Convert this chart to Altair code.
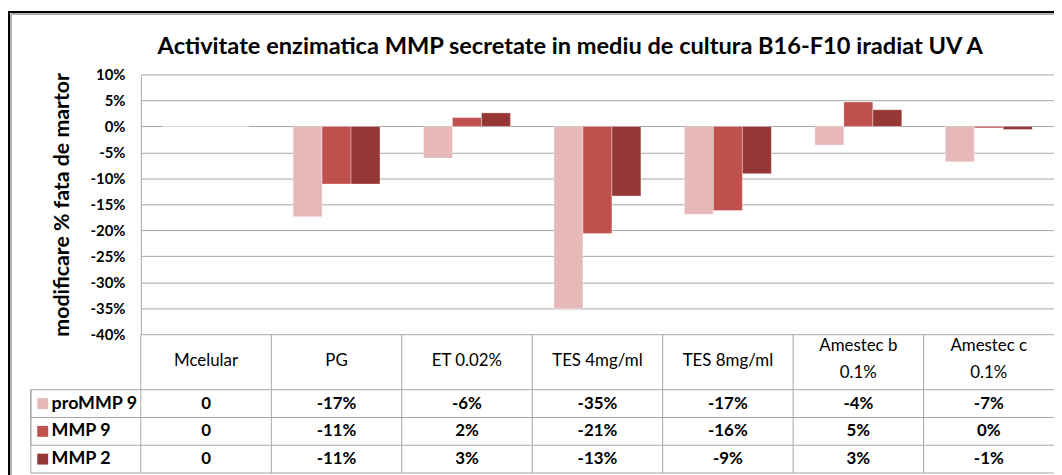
import altair as alt
import pandas as pd

# ---------------- data ----------------
categories = ["Mcelular", "PG", "ET 0.02%", "TES 4mg/ml", "TES 8mg/ml",
              "Amestec b 0.1%", "Amestec c 0.1%"]
header_line1 = ["Mcelular", "PG", "ET 0.02%", "TES 4mg/ml", "TES 8mg/ml",
                "Amestec b", "Amestec c"]
header_line2 = ["", "", "", "", "", "0.1%", "0.1%"]
series = ["proMMP 9", "MMP 9", "MMP 2"]
colors = ["#E6B9B8", "#C0504D", "#953735"]
pro_mmp9 = [0, -17.4, -6.1, -35.1, -16.9, -3.6, -6.8]
mmp9 = [0, -11.1, 1.7, -20.6, -16.2, 4.7, -0.3]
mmp2 = [0, -11.1, 2.6, -13.4, -9.1, 3.2, -0.6]
y_ticks = [-40, -35, -30, -25, -20, -15, -10, -5, 0, 5, 10]
title_text = "Activitate enzimatica MMP secretate in mediu de cultura B16-F10 iradiat UV A"

FONT = "Lato"

rows = []
for i, (s, vals) in enumerate(zip(series, [pro_mmp9, mmp9, mmp2])):
    for c, v in zip(categories, vals):
        rows.append({"cat": c, "series": s, "value": v, "row": 2.5 + i,
                     "label": "0" if v == 0 else f"{round(v)}%"})
df = pd.DataFrame(rows)

header_rows = []
for c, l1, l2 in zip(categories, header_line1, header_line2):
    if l2:
        header_rows.append({"cat": c, "text": l1, "row": 0.43})
        header_rows.append({"cat": c, "text": l2, "row": 1.4})
    else:
        header_rows.append({"cat": c, "text": l1, "row": 0.97})
header_df = pd.DataFrame(header_rows)

vlines_df = pd.DataFrame({"cat": categories, "r0": [0] * len(categories), "r1": [5] * len(categories)})
hlines_df = pd.DataFrame({"r": [2, 3, 4, 5]})
legend_df = pd.DataFrame({"series": series, "row": [2.5, 3.5, 4.5]})
one = pd.DataFrame({"t": [title_text]})

PLOT_W = 921
X_SPAN = 921
bar_range = [262, 0]

x_scale = alt.Scale(domain=categories, range=[0, X_SPAN], paddingInner=0, paddingOuter=0)
tbl_scale = alt.Scale(domain=[0, 5], range=[262, 402], nice=False, zero=False)
color_scale = alt.Scale(domain=series, range=colors)

bars = alt.Chart(df).mark_bar(stroke="white", strokeWidth=0.6, strokeOpacity=0.6).encode(
    x=alt.X("cat:N", scale=x_scale, sort=categories, axis=None),
    xOffset=alt.XOffset("series:N", sort=series,
                        scale=alt.Scale(domain=series, paddingInner=0, paddingOuter=0.75)),
    y=alt.Y("value:Q",
            scale=alt.Scale(domain=[-40, 10], range=bar_range, nice=False, zero=False),
            axis=alt.Axis(values=y_ticks, labelExpr="datum.value + '%'",
                          title="modificare % fata de martor",
                          titleFont=FONT, titleFontSize=21.5, titleFontWeight="bold",
                          titleColor="black", titlePadding=17,
                          labelFont=FONT, labelFontSize=15, labelFontWeight="bold",
                          labelColor="black", labelPadding=16, ticks=False,
                          domainColor="#a6a6a6", gridColor="#a6a6a6", grid=True)),
    y2=alt.datum(0),
    color=alt.Color("series:N", scale=color_scale, legend=None),
)

vlines = alt.Chart(vlines_df).mark_rule(color="#a6a6a6", strokeWidth=1).encode(
    x=alt.X("cat:N", scale=x_scale, sort=categories, bandPosition=0, axis=None),
    y=alt.Y("r0:Q", scale=tbl_scale, axis=None),
    y2="r1:Q",
)
left_vline = alt.Chart(hlines_df).mark_rule(color="#a6a6a6", strokeWidth=1).encode(
    x=alt.value(-111),
    y=alt.Y("r:Q", scale=tbl_scale, axis=None),
    y2=alt.datum(2),
)
hlines = alt.Chart(hlines_df).mark_rule(color="#a6a6a6", strokeWidth=1).encode(
    x=alt.value(-111), x2=alt.value(X_SPAN),
    y=alt.Y("r:Q", scale=tbl_scale, axis=None),
)

header_txt = alt.Chart(header_df).mark_text(
    font=FONT, fontSize=17, fontWeight="normal", color="black",
    baseline="middle", align="center"
).encode(
    x=alt.X("cat:N", scale=x_scale, sort=categories, axis=None),
    y=alt.Y("row:Q", scale=tbl_scale, axis=None),
    text="text:N",
)

value_txt = alt.Chart(df).mark_text(
    font=FONT, fontSize=17, fontWeight="bold", color="black",
    baseline="middle", align="center"
).encode(
    x=alt.X("cat:N", scale=x_scale, sort=categories, axis=None),
    y=alt.Y("row:Q", scale=tbl_scale, axis=None),
    text="label:N",
)

legend_sw = alt.Chart(legend_df).mark_square(size=121, opacity=1).encode(
    x=alt.value(-99),
    y=alt.Y("row:Q", scale=tbl_scale, axis=None),
    color=alt.Color("series:N", scale=color_scale, legend=None),
)
legend_txt = alt.Chart(legend_df).mark_text(
    font=FONT, fontSize=18, fontWeight="bold", color="black",
    baseline="middle", align="left"
).encode(
    x=alt.value(-90),
    y=alt.Y("row:Q", scale=tbl_scale, axis=None),
    text="series:N",
)

title_mark = alt.Chart(one).mark_text(
    font=FONT, fontSize=23.8, fontWeight="bold", color="black",
    baseline="alphabetic", align="center"
).encode(x=alt.value(433), y=alt.value(-21), text="t:N")

frame_black_v = alt.Chart(one).mark_rule(color="black", strokeWidth=2).encode(
    x=alt.value(-133), y=alt.value(-63), y2=alt.value(420))
frame_gray_v = alt.Chart(one).mark_rule(color="#b0b0b0", strokeWidth=2).encode(
    x=alt.value(-131), y=alt.value(-61), y2=alt.value(420))
frame_black_h = alt.Chart(one).mark_rule(color="black", strokeWidth=2).encode(
    x=alt.value(-134), x2=alt.value(X_SPAN), y=alt.value(-63))
frame_gray_h = alt.Chart(one).mark_rule(color="#b0b0b0", strokeWidth=2).encode(
    x=alt.value(-131), x2=alt.value(X_SPAN), y=alt.value(-61))

chart = alt.layer(
    frame_black_v, frame_gray_v, frame_black_h, frame_gray_h, title_mark,
    bars, vlines, left_vline, hlines, header_txt, value_txt, legend_sw, legend_txt,
).resolve_scale(y="independent").properties(
    width=PLOT_W, height=402,
    padding={"left": 134, "top": 65, "right": 0, "bottom": 0},
    autosize=alt.AutoSizeParams(type="none"),
).configure_view(stroke=None)

chart.save("out.html", embed_options={"renderer": "svg", "actions": False})
